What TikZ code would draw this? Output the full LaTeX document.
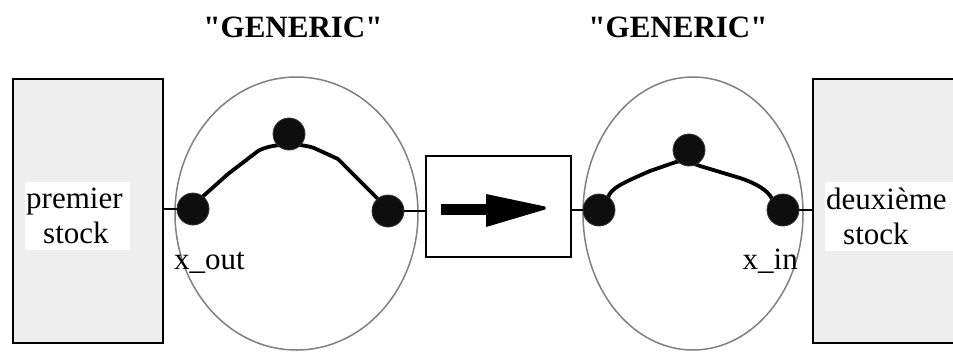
\documentclass[tikz,border=0pt]{standalone}
\usepackage{fontspec}
\setmainfont{Liberation Serif}[Ligatures=TeXOff]
\usetikzlibrary{shapes.geometric}
\definecolor{stockgray}{RGB}{238,238,238}
\definecolor{dotblack}{RGB}{14,14,14}
\definecolor{ellgray}{RGB}{128,128,128}
\begin{document}
\begin{tikzpicture}[x=1pt,y=-1pt,
  stockbox/.style={draw=black,line width=2pt,fill=stockgray,minimum width=150pt,minimum height=264pt,inner sep=0pt},
  ellnode/.style={ellipse,draw=ellgray,line width=1.5pt,inner sep=0pt},
  dotnode/.style={circle,fill=dotblack,draw=black!80,line width=0.8pt,minimum size=32pt,inner sep=0pt},
  midnode/.style={draw=black,line width=2pt,fill=white,minimum width=145pt,minimum height=101pt,inner sep=0pt},
  lbl/.style={font=\fontsize{31}{35}\selectfont,inner sep=0pt},
  stocklbl/.style={lbl,fill=white,align=left,inner xsep=1pt,inner ysep=6pt,anchor=north west},
  wire/.style={line width=2pt,black},
  chain/.style={line width=3.8pt,black,line cap=round,line join=round}
]
\useasboundingbox (0,0) rectangle (953,351);
\begin{scope}
\clip (0,0) rectangle (953,351);
% stocks
\node[stockbox] (s1) at (88,211) {};
\node[stockbox,minimum width=160pt] (s2) at (893,211) {};
\node[stocklbl,text width=103pt] (t1) at (25,182) {premier\\\hspace*{17pt}stock};
\node[stocklbl,text width=132pt] (t2) at (825,182) {deuxième\\\hspace*{17pt}stock};
% generic ellipses
\node[ellnode,minimum width=243pt,minimum height=273pt] (e1) at (296.5,213.5) {};
\node[ellnode,minimum width=220pt,minimum height=273pt] (e2) at (693,213.5) {};
% middle box
\node[midnode] (m) at (498.5,206.5) {};
\fill[black] (441,204) rectangle (487,215);
\fill[black] (486,194) -- (545,206.5) to[out=0,in=0] (545,209.5) -- (486,227) -- cycle;
% dots
\coordinate (la) at (193,209);
\coordinate (lb) at (289,134);
\coordinate (lc) at (388,211);
\coordinate (ra) at (599,210);
\coordinate (rb) at (689,150);
\coordinate (rc) at (783,210);
% wires
\draw[wire] (s1.east |- la) -- (la);
\draw[wire] (lc) -- (lc -| m.west);
\draw[wire] (m.east |- ra) -- (ra);
\draw[wire] (rc) -- (rc -| s2.west);
% chains
\draw[chain] (200,199) -- (228,174) -- (258,151) .. controls (272,143) and (300,143) .. (314,148) -- (338,159) -- (381,202);
\draw[chain] (608,198) .. controls (610,188) and (625,182) .. (650,171) -- (676,162) .. controls (685,160) and (692,163) .. (700,166) -- (740,178) .. controls (755,183) and (768,190) .. (772,199);
\node[dotnode] (d1) at (la) {};
\node[dotnode] (d2) at (lb) {};
\node[dotnode] (d3) at (lc) {};
\node[dotnode] (d4) at (ra) {};
\node[dotnode] (d5) at (rb) {};
\node[dotnode] (d6) at (rc) {};
\end{scope}
% labels
\node[lbl,anchor=base west] (xo) at (174,269) {x\_out};
\node[lbl,anchor=base east] (xi) at (798,269) {x\_in};
\node[lbl,font=\fontsize{31}{35}\selectfont\bfseries,anchor=base] (g1) at (293,37) {"GENERIC"};
\node[lbl,font=\fontsize{31}{35}\selectfont\bfseries,anchor=base] (g2) at (678,37) {"GENERIC"};
\end{tikzpicture}
\end{document}
